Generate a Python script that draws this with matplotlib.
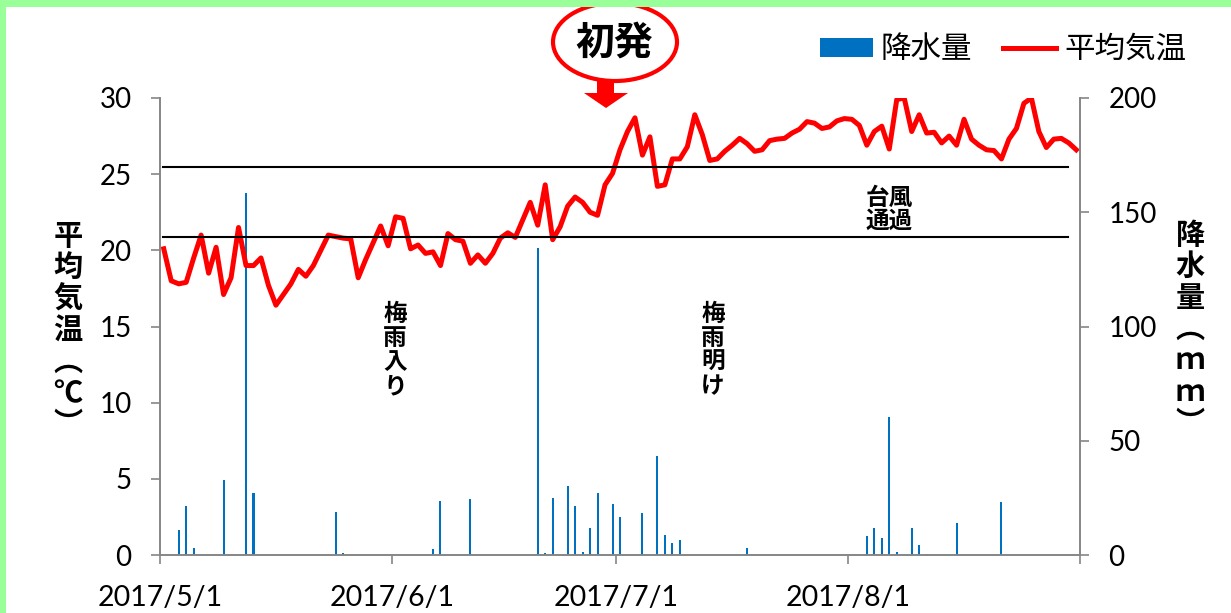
import numpy as np
import pandas as pd
import matplotlib
matplotlib.use("Agg")
import matplotlib.pyplot as plt
import matplotlib.dates as mdates
from matplotlib.patches import Ellipse, Polygon, Rectangle

plt.rcParams['font.family'] = ['Lato', 'Noto Sans CJK JP', 'DejaVu Sans']

# daily data 2017/5/1 - 2017/8/31
start_date = "2017-05-01"
end_date = "2017-08-31"

# mean temperature (deg C), one value per day
temp = [
    20.1, 18.0, 17.8, 17.9, 19.5, 21.0, 18.5, 20.2, 17.1, 18.2,
    21.5, 19.0, 19.0, 19.5, 17.7, 16.4, 17.1, 17.8, 18.75, 18.3,
    19.0, 20.0, 21.0, 20.9, 20.8, 20.75, 18.2, 19.4, 20.5, 21.6,
    20.3, 22.2, 22.1, 20.1, 20.35, 19.8, 19.9, 19.0, 21.1, 20.7,
    20.6, 19.15, 19.7, 19.15, 19.8, 20.8, 21.15, 20.85, 22.0, 23.15,
    21.65, 24.3, 20.7, 21.55, 22.9, 23.5, 23.15, 22.5, 22.3, 24.3,
    25.05, 26.6, 27.8, 28.7, 26.25, 27.45, 24.2, 24.3, 26.0, 26.0,
    26.8, 28.9, 27.6, 25.9, 26.0, 26.5, 26.9, 27.35, 27.0, 26.5,
    26.6, 27.2, 27.3, 27.35, 27.7, 27.95, 28.45, 28.35, 28.0, 28.1,
    28.5, 28.65, 28.6, 28.2, 26.9, 27.8, 28.15, 26.65, 29.9, 30.0,
    27.8, 28.9, 27.7, 27.75, 27.05, 27.5, 26.9, 28.6, 27.3, 26.9,
    26.6, 26.55, 26.0, 27.3, 28.0, 29.65, 30.0, 27.8, 26.75, 27.3,
    27.35, 27.05, 26.6,
]

# precipitation (mm), only rainy days listed
rain_dates = [
    "2017-05-03", "2017-05-04", "2017-05-05", "2017-05-09", "2017-05-12",
    "2017-05-13", "2017-05-24", "2017-05-25", "2017-06-06", "2017-06-07",
    "2017-06-11", "2017-06-20", "2017-06-21", "2017-06-22", "2017-06-24",
    "2017-06-25", "2017-06-26", "2017-06-27", "2017-06-28", "2017-06-30",
    "2017-07-01", "2017-07-04", "2017-07-06", "2017-07-07", "2017-07-08",
    "2017-07-09", "2017-07-18", "2017-08-03", "2017-08-04", "2017-08-05",
    "2017-08-06", "2017-08-07", "2017-08-09", "2017-08-10", "2017-08-11",
    "2017-08-15", "2017-08-21",
]
rain_mm = [
    10.9, 21.4, 2.9, 32.8, 158.5,
    27.0, 19.0, 1.0, 2.5, 23.8,
    24.4, 134.2, 1.0, 24.9, 30.3,
    21.4, 1.3, 11.8, 27.0, 22.3,
    16.8, 18.5, 43.5, 8.75, 5.25,
    6.6, 2.9, 8.3, 11.8, 7.3,
    60.3, 1.3, 11.8, 4.2, 0.5,
    13.9, 23.3,
]

# reference lines (deg C)
ref_levels = [25.45, 20.85]

x_ticks = ["2017-05-01", "2017-06-01", "2017-07-01", "2017-08-01", "2017-09-01"]
x_ticklabels = ["2017/5/1", "2017/6/1", "2017/7/1", "2017/8/1", ""]

W, H = 1231, 613
fig = plt.figure(figsize=(W / 100, H / 100), dpi=100)
fx = lambda px: px / W
fy = lambda py: 1 - py / H

ax = fig.add_axes([fx(160), fy(555), fx(1080) - fx(160), fy(98) - fy(555)])
ax2 = ax.twinx()
ax.set_zorder(2)
ax.patch.set_visible(False)

days = mdates.date2num(pd.date_range(start_date, end_date)) + 0.5
rain_x = mdates.date2num(pd.to_datetime(rain_dates)) + 0.5

# rain bars on right axis (crisp 2px bars)
bars = ax2.bar(rain_x, rain_mm, width=0.27, color='#0070C0', label='降水量',
               antialiased=False, linewidth=0)
# temperature line on left axis
line, = ax.plot(days, temp, color='#FF0000', lw=3.6, label='平均気温',
                solid_joinstyle='round')

x0 = mdates.date2num(pd.Timestamp(start_date))
for lv in ref_levels:
    ax.plot([x0 + 0.4, x0 + 121.4], [lv, lv], color='black', lw=1.5)

xmin = mdates.date2num(pd.Timestamp(x_ticks[0]))
xmax = mdates.date2num(pd.Timestamp(x_ticks[-1]))
ax.set_xlim(xmin, xmax)
ax.set_ylim(0, 30)
ax2.set_ylim(0, 200)
ax.set_yticks(range(0, 31, 5))
ax2.set_yticks(range(0, 201, 50))
ax.set_xticks(mdates.date2num(pd.to_datetime(x_ticks)))
ax.set_xticklabels(x_ticklabels)

gray = '#868686'
for a in (ax, ax2):
    a.spines['top'].set_visible(False)
    for s in ('left', 'right', 'bottom'):
        a.spines[s].set_color(gray)
        a.spines[s].set_linewidth(1.2)
ax.tick_params(axis='y', length=6.5, width=1.2, color=gray, labelsize=20, pad=14)
ax.tick_params(axis='x', length=6.5, width=1.2, color=gray, labelsize=20.5, pad=15)
ax2.tick_params(axis='y', length=6.5, width=1.2, color=gray, labelsize=20, pad=14)

# stacked vertical axis titles
cjk = ['Noto Sans CJK JP', 'DejaVu Sans']
fig.text(fx(68), fy(330), "\n".join("平均気温︵℃︶"), ha='center', va='center',
         fontsize=21, fontweight='bold', family=cjk, linespacing=1.06)
fig.text(fx(1190), fy(329), "\n".join("降水量︵ｍｍ︶"), ha='center', va='center',
         fontsize=21, fontweight='bold', family=cjk, linespacing=1.06)

# annotations
fig.text(fx(395), fy(350), "\n".join("梅雨入り"), ha='center', va='center',
         fontsize=17, fontweight='bold', family=cjk, linespacing=1.0)
fig.text(fx(713), fy(350), "\n".join("梅雨明け"), ha='center', va='center',
         fontsize=17, fontweight='bold', family=cjk, linespacing=1.0)
fig.text(fx(889), fy(209), "台風\n通過", ha='center', va='center',
         fontsize=17, fontweight='bold', family=cjk, linespacing=0.95)

# 初発 callout
fig.add_artist(Ellipse((fx(615), fy(42)), fx(124), 78 / H, transform=fig.transFigure,
                       facecolor='white', edgecolor='#FF0000', lw=3))
fig.text(fx(614), fy(43), "初発", ha='center', va='center',
         fontsize=28, fontweight='bold', family=cjk)
arrow_px = [(597, 80), (614, 80), (614, 93), (628, 93), (606, 108), (584, 93), (597, 93)]
fig.add_artist(Polygon([(fx(px), fy(py)) for px, py in arrow_px], closed=True,
                       transform=fig.transFigure, facecolor='#FF0000', edgecolor='none'))

# legend
leg = ax.legend([bars, line], ['降水量', '平均気温'], ncol=2, loc='center right',
                bbox_to_anchor=(fx(1186), fy(49)), bbox_transform=fig.transFigure,
                frameon=False, fontsize=22, handlelength=1.75, handleheight=0.6,
                handletextpad=0.25, columnspacing=1.0, borderpad=0, borderaxespad=0)

# green frame
green = '#99FF99'
fig.add_artist(Rectangle((0, fy(7)), 1, 7 / H, transform=fig.transFigure,
                         facecolor=green, edgecolor='none'))
fig.add_artist(Rectangle((0, 0), fx(6), 1, transform=fig.transFigure,
                         facecolor=green, edgecolor='none'))

fig.savefig("out.png", dpi=100)
